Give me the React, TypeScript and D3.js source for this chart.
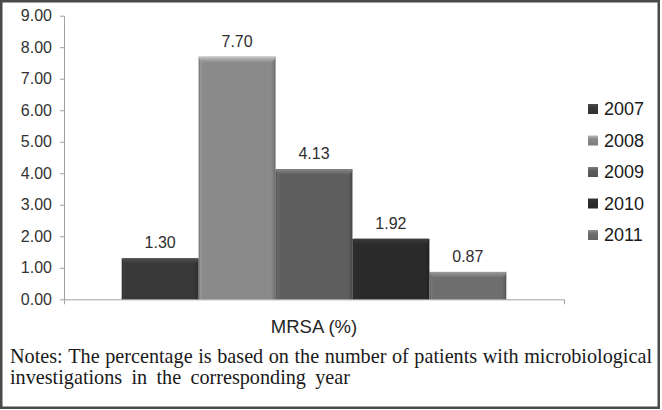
import React, { useEffect, useRef } from 'react';
import * as d3 from 'd3';

const categories = ['MRSA (%)'];
const years = ['2007', '2008', '2009', '2010', '2011'];
const values = [1.3, 7.7, 4.13, 1.92, 0.87];
const yTicks = [0, 1, 2, 3, 4, 5, 6, 7, 8, 9];
const colors = ['#383838', '#8a8a8a', '#5e5e5e', '#2a2a2a', '#6e6e6e'];
const noteLines = [
  'Notes: The percentage is based on the number of patients with microbiological',
  'investigations in the corresponding year',
];

const SANS = '"Liberation Sans", Arial, Helvetica, sans-serif';
const SERIF = '"Liberation Serif", "Times New Roman", Times, serif';

export default function App() {
  const ref = useRef<SVGSVGElement>(null);

  useEffect(() => {
    const svg = d3.select(ref.current);
    svg.selectAll('*').remove();
    const W = 662;
    const H = 410;
    const plot = { left: 64, right: 564, top: 15.7, bottom: 299.3 };

    const y = d3.scaleLinear().domain([0, 9]).range([plot.bottom, plot.top]);
    const x0 = d3.scaleBand().domain(categories).range([plot.left, plot.right]).padding(0);
    const x1 = d3
      .scaleBand()
      .domain(years)
      .range([0, x0.bandwidth()])
      .paddingInner(0)
      .paddingOuter(0.75);

    svg.append('rect').attr('width', W).attr('height', H).attr('fill', '#fff');

    const defs = svg.append('defs');
    colors.forEach((c, i) => {
      const base = d3.color(c)!;
      const side = defs
        .append('linearGradient')
        .attr('id', `side${i}`)
        .attr('x1', 0)
        .attr('x2', 1)
        .attr('y1', 0)
        .attr('y2', 0);
      side.append('stop').attr('offset', 0).attr('stop-color', base.darker(0.7).toString());
      side.append('stop').attr('offset', 0.025).attr('stop-color', base.brighter(0.25).toString());
      side.append('stop').attr('offset', 0.06).attr('stop-color', c);
      side.append('stop').attr('offset', 0.94).attr('stop-color', c);
      side.append('stop').attr('offset', 0.975).attr('stop-color', base.darker(0.3).toString());
      side.append('stop').attr('offset', 1).attr('stop-color', base.darker(0.9).toString());
      const top = defs
        .append('linearGradient')
        .attr('id', `top${i}`)
        .attr('x1', 0)
        .attr('x2', 0)
        .attr('y1', 0)
        .attr('y2', 1);
      top.append('stop').attr('offset', 0).attr('stop-color', base.brighter(1.0).toString());
      top.append('stop').attr('offset', 0.5).attr('stop-color', base.brighter(0.5).toString());
      top.append('stop').attr('offset', 1).attr('stop-color', c);
      const leg = defs
        .append('linearGradient')
        .attr('id', `leg${i}`)
        .attr('x1', 0)
        .attr('x2', 0)
        .attr('y1', 0)
        .attr('y2', 1);
      leg.append('stop').attr('offset', 0).attr('stop-color', base.brighter(0.8).toString());
      leg.append('stop').attr('offset', 0.35).attr('stop-color', c);
      leg.append('stop').attr('offset', 1).attr('stop-color', base.darker(0.3).toString());
    });

    // Y axis
    const yAxis = svg
      .append('g')
      .attr('transform', `translate(${plot.left},0)`)
      .call(
        d3
          .axisLeft(y)
          .tickValues(yTicks)
          .tickFormat(d3.format('.2f'))
          .tickSize(4)
          .tickSizeOuter(0)
          .tickPadding(8)
      );
    yAxis.select('.domain').attr('stroke', '#a0a0a0').attr('stroke-width', 1);
    yAxis.selectAll('.tick line').attr('stroke', '#a0a0a0');
    yAxis
      .selectAll('.tick text')
      .attr('font-family', SANS)
      .attr('font-size', 16)
      .attr('fill', '#333');

    // X axis
    const xAxis = svg
      .append('g')
      .attr('transform', `translate(0,${plot.bottom})`)
      .call(d3.axisBottom(x0).tickSize(0).tickSizeOuter(5).tickPadding(20.5));
    xAxis.select('.domain').attr('stroke', '#a0a0a0').attr('stroke-width', 1);
    xAxis
      .selectAll('.tick text')
      .attr('font-family', SANS)
      .attr('font-size', 18.5)
      .attr('fill', '#262626');

    // Bars
    const bars = svg.append('g');
    years.forEach((yr, i) => {
      const v = values[i];
      const bx = x0(categories[0])! + x1(yr)!;
      const bw = x1.bandwidth();
      const by = y(v);
      const bh = plot.bottom - by;
      bars
        .append('rect')
        .attr('x', bx)
        .attr('y', by)
        .attr('width', bw)
        .attr('height', bh)
        .attr('fill', `url(#side${i})`);
      const bev = Math.min(6, bh / 2);
      bars
        .append('path')
        .attr(
          'd',
          `M${bx + 1.5},${by} L${bx + bw - 1.5},${by} Q${bx + bw},${by} ${bx + bw},${by + 1.5} L${bx + bw - 4},${by + bev} L${bx + 4},${by + bev} L${bx},${by + 1.5} Q${bx},${by} ${bx + 1.5},${by} Z`
        )
        .attr('fill', `url(#top${i})`);
      bars
        .append('text')
        .attr('x', bx + bw / 2)
        .attr('y', by - 10)
        .attr('text-anchor', 'middle')
        .attr('font-family', SANS)
        .attr('font-size', 16)
        .attr('fill', '#2e2e2e')
        .text(v.toFixed(2));
    });

    // Legend
    const legend = svg.append('g');
    years.forEach((yr, i) => {
      const cy = 109 + i * 31.5;
      legend
        .append('rect')
        .attr('x', 588)
        .attr('y', cy - 5)
        .attr('width', 10)
        .attr('height', 10)
        .attr('fill', `url(#leg${i})`);
      legend
        .append('text')
        .attr('x', 604)
        .attr('y', cy)
        .attr('dy', '0.36em')
        .attr('font-family', SANS)
        .attr('font-size', 18)
        .attr('fill', '#1a1a1a')
        .text(yr);
    });

    // Notes (justified)
    const notes = svg.append('g');
    const lineSpecs = [
      { text: noteLines[0], x0: 10, x1: 652, baseline: 363 },
      { text: noteLines[1], x0: 10, x1: 350, baseline: 384 },
    ];
    const fs = 20.2;
    lineSpecs.forEach((ls) => {
      const words = ls.text.split(' ');
      const nodes = words.map((w) =>
        notes
          .append('text')
          .attr('y', ls.baseline)
          .attr('font-family', SERIF)
          .attr('font-size', fs)
          .attr('fill', '#1a1a1a')
          .text(w)
      );
      const widths = nodes.map((n) => (n.node() as SVGTextElement).getComputedTextLength());
      const total = d3.sum(widths);
      const gap = (ls.x1 - ls.x0 - total) / (words.length - 1);
      let cx = ls.x0;
      nodes.forEach((n, k) => {
        n.attr('x', cx);
        cx += widths[k] + gap;
      });
    });

    // Frame
    svg
      .append('rect')
      .attr('x', 1.25)
      .attr('y', 1.25)
      .attr('width', 657.5)
      .attr('height', 406.5)
      .attr('fill', 'none')
      .attr('stroke', '#4a4a4a')
      .attr('stroke-width', 2.5);
  }, []);

  return (
    <svg
      ref={ref}
      width={662}
      height={410}
      style={{ position: 'absolute', left: 0, top: 0, display: 'block' }}
    />
  );
}
